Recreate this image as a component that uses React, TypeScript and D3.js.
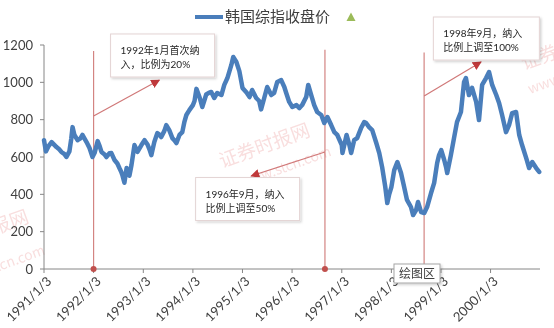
import React from "react";
import * as d3 from "d3";

// KOSPI daily close
const dates = [
  "1991-01-03","1991-01-17","1991-02-07","1991-02-28","1991-03-20","1991-04-05","1991-04-27","1991-05-11","1991-06-03","1991-06-17",
  "1991-07-09","1991-07-23","1991-08-01","1991-08-15","1991-09-07","1991-09-28","1991-10-13","1991-11-12","1991-12-04","1991-12-26",
  "1992-01-10","1992-02-02","1992-02-16","1992-03-01","1992-03-22","1992-04-07","1992-04-28","1992-05-13","1992-06-05","1992-06-26",
  "1992-07-11","1992-07-25","1992-08-03","1992-08-17","1992-09-02","1992-09-09","1992-09-23","1992-10-08","1992-10-30","1992-11-21",
  "1992-12-20","1993-01-12","1993-02-04","1993-02-18","1993-03-03","1993-03-25","1993-04-16","1993-05-01","1993-05-15","1993-06-07",
  "1993-06-21","1993-07-13","1993-08-05","1993-08-19","1993-09-04","1993-09-26","1993-10-17","1993-11-02","1993-11-16","1993-12-08",
  "1994-01-03","1994-01-15","1994-01-29","1994-02-21","1994-03-13","1994-03-27","1994-04-11","1994-05-03","1994-05-18","1994-06-09",
  "1994-07-01","1994-08-01","1994-08-22","1994-09-14","1994-10-13","1994-10-27","1994-11-19","1994-12-11","1995-01-03","1995-02-02",
  "1995-02-24","1995-03-15","1995-04-14","1995-05-06","1995-05-20","1995-06-12","1995-07-04","1995-08-03","1995-08-24","1995-09-16",
  "1995-10-15","1995-11-07","1995-11-21","1995-12-13","1996-01-05","1996-02-04","1996-02-26","1996-03-17","1996-04-16","1996-05-01",
  "1996-05-23","1996-06-14","1996-07-06","1996-08-05","1996-08-27","1996-09-19","1996-10-17","1996-11-09","1996-12-01","1997-01-03",
  "1997-01-08","1997-02-07","1997-02-28","1997-03-13","1997-04-04","1997-04-26","1997-05-25","1997-06-17","1997-07-01","1997-07-23",
  "1997-08-15","1997-09-14","1997-10-06","1997-10-27","1997-11-19","1997-12-04","1997-12-18","1998-01-03","1998-01-24","1998-02-16",
  "1998-03-15","1998-04-07","1998-04-28","1998-05-27","1998-06-12","1998-07-04","1998-07-18","1998-08-10","1998-09-02","1998-09-23",
  "1998-10-22","1998-11-14","1998-12-06","1998-12-20","1999-01-05","1999-01-27","1999-02-11","1999-02-18","1999-03-17","1999-04-09",
  "1999-05-01","1999-05-30","1999-06-22","1999-07-06","1999-07-28","1999-08-20","1999-09-19","1999-10-10","1999-11-02","1999-12-01",
  "1999-12-23","2000-01-15","2000-02-14","2000-03-06","2000-03-28","2000-04-26","2000-05-18","2000-06-10","2000-07-09","2000-08-01",
  "2000-08-22","2000-09-21","2000-10-13","2000-11-05","2000-12-04","2000-12-26"
];
const closes = [
  690,630,660,680,665,653,640,627,615,600,
  630,700,760,718,690,700,718,680,648,600,
  621,685,660,627,615,600,620,621,584,565,
  541,520,500,462,541,514,500,557,664,627,
  664,690,665,640,610,680,728,720,707,740,
  771,744,701,690,675,718,733,790,825,851,
  878,900,965,920,868,900,935,945,948,916,
  943,932,986,1023,1093,1136,1109,1060,970,945,
  921,959,916,900,855,916,975,932,943,1002,
  1012,975,943,895,868,878,862,878,921,986,
  932,878,841,825,782,814,771,733,718,664,
  621,718,664,621,690,701,755,787,782,760,
  744,675,621,546,440,353,400,439,530,573,
  514,439,370,332,289,316,359,305,300,332,
  407,461,568,610,637,584,541,514,610,701,
  787,841,1002,1023,932,970,895,798,986,1023,
  1055,986,932,889,825,733,771,835,841,718,
  664,595,541,573,541,520
];

const yTicks = [0, 200, 400, 600, 800, 1000, 1200];
const xTickYears = [1991, 1992, 1993, 1994, 1995, 1996, 1997, 1998, 1999, 2000];
const seriesName = "韩国综指收盘价";

// policy events
const eventDates = ["1992-01-03", "1996-09-01", "1998-09-01"];
const eventLineTop = [1168, 1175, 1160];
const arrowFromVal = [820, 627, 927];
const arrowToDates = ["1993-05-01", "1995-03-08", "1999-10-25"];
const arrowToVal = [1012, 498, 1109];
const boxDates = ["1992-05-07", "1994-01-23", "1998-11-08"];
const boxTopVal = [1259, 490, 1350];
const boxTexts = [
  ["1992年1月首次纳", "入，比例为20%"],
  ["1996年9月，纳入", "比例上调至50%"],
  ["1998年9月，纳入", "比例上调至100%"],
];

export default function App() {
  const W = 554, H = 328;
  const parse = d3.timeParse("%Y-%m-%d");
  const x = d3.scaleTime().domain([parse("1991-01-03")!, parse("2001-01-01")!]).range([44, 540]);
  const y = d3.scaleLinear().domain([0, 1200]).range([269, 45]);
  const data = dates.map((d, i) => ({ d: parse(d)!, v: closes[i] }));
  const line = d3.line<{ d: Date; v: number }>().x(p => x(p.d)).y(p => y(p.v));
  const numFont = "Lato, 'Noto Sans CJK SC', sans-serif";
  const cjkFont = "'Noto Sans CJK SC', sans-serif";
  const red = "#c0504d";
  const x0 = x.range()[0], x1 = x.range()[1];
  const y0 = y(0);

  return (
    <svg width={W} height={H} style={{ position: "absolute", left: 0, top: 0, background: "#fff" }}>
      <defs>
        <marker id="ah" viewBox="0 0 10 10" refX="9" refY="5" markerWidth="9" markerHeight="9" markerUnits="userSpaceOnUse" orient="auto">
          <path d="M0,0 L10,5 L0,10 Z" fill="#c0393b" />
        </marker>
        <filter id="sh" x="-10%" y="-10%" width="130%" height="140%">
          <feDropShadow dx="1.5" dy="1.5" stdDeviation="1.2" floodColor="#000" floodOpacity="0.18" />
        </filter>
      </defs>

      {/* watermarks */}
      <g fill="#e88a8a" opacity={0.28} fontFamily={cjkFont}>
        <text transform="translate(222,168) rotate(-20)" fontSize={19}>证券时报网</text>
        <text transform="translate(242,188) rotate(-20)" fontSize={14}>www.stcn.com</text>
        <text transform="translate(30,222) rotate(-20)" fontSize={19} textAnchor="end">证券时报网</text>
        <text transform="translate(46,254) rotate(-20)" fontSize={14} textAnchor="end">www.stcn.com</text>
        <text transform="translate(524,70) rotate(-20)" fontSize={19}>证券时报网</text>
        <text transform="translate(530,94) rotate(-20)" fontSize={14}>www.stcn.com</text>
      </g>

      {/* y axis */}
      <line x1={x0} x2={x0} y1={y(1200)} y2={y0} stroke="#868686" />
      {yTicks.map(t => (
        <g key={t}>
          <line x1={x0 - 4} x2={x0} y1={y(t)} y2={y(t)} stroke="#868686" />
          <text x={33} y={y(t)} dy="0.36em" textAnchor="end" fontSize={13} fontFamily={numFont} fill="#404040">{t}</text>
        </g>
      ))}

      {/* x axis */}
      <line x1={x0} x2={x1} y1={y0} y2={y0} stroke="#868686" />
      {xTickYears.map(yr => {
        const xx = x(new Date(yr, 0, 3));
        return (
          <g key={yr}>
            <line x1={xx} x2={xx} y1={y0} y2={y0 + 4} stroke="#868686" />
            <text transform={`translate(${xx + 5},${y0 + 10}) rotate(-45)`} textAnchor="end" dy="0.35em" fontSize={13} fontFamily={numFont} fill="#404040">{`${yr}/1/3`}</text>
          </g>
        );
      })}

      {/* event lines */}
      {eventDates.map((ed, i) => {
        const xx = x(parse(ed)!);
        return (
          <g key={ed}>
            <line x1={xx} x2={xx} y1={y(eventLineTop[i])} y2={y0} stroke={red} strokeOpacity={0.7} strokeWidth={1.2} />
            <circle cx={xx} cy={y0} r={3} fill={red} />
          </g>
        );
      })}

      {/* series */}
      <path d={line(data)!} fill="none" stroke="#4a7ebb" strokeWidth={4.5} strokeLinejoin="round" strokeLinecap="round" />

      {/* arrows */}
      {eventDates.map((ed, i) => (
        <line key={"a" + i} x1={x(parse(ed)!)} y1={y(arrowFromVal[i])} x2={x(parse(arrowToDates[i])!)} y2={y(arrowToVal[i])}
          stroke="#d07878" strokeWidth={1.2} markerEnd="url(#ah)" />
      ))}

      {/* annotation boxes */}
      {boxTexts.map((lines, i) => {
        const bx = x(parse(boxDates[i])!);
        const by = y(boxTopVal[i]);
        const w = i === 2 ? 106 : 104;
        return (
          <g key={"b" + i}>
            <rect x={bx} y={by} width={w} height={43} fill="#fff" stroke="#e4d4d4" strokeWidth={1} filter="url(#sh)" />
            {lines.map((t, j) => (
              <text key={j} x={bx + 10} y={by + 20 + j * 14} fontSize={10} fontFamily={numFont} fill="#262626">{t}</text>
            ))}
          </g>
        );
      })}

      {/* legend */}
      <line x1={195} x2={223} y1={17} y2={17} stroke="#4a7ebb" strokeWidth={4} />
      <text x={225} y={22} fontSize={15} fontFamily={cjkFont} fill="#404040">{seriesName}</text>
      <path d="M351,12.5 L355.5,21 L346.5,21 Z" fill="#9bbb59" />

      {/* chart tooltip */}
      <g filter="url(#sh)">
        <rect x={394} y={264} width={46} height={19} fill="#fff" stroke="#a6a6a6" />
      </g>
      <text x={417} y={278} textAnchor="middle" fontSize={12} fontFamily={cjkFont} fill="#404040">绘图区</text>
    </svg>
  );
}
